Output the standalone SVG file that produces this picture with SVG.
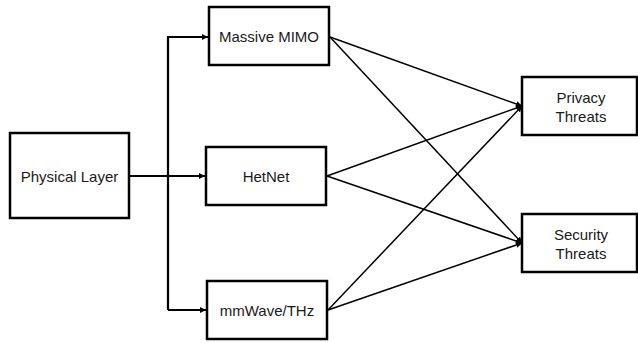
<svg xmlns="http://www.w3.org/2000/svg" width="638" height="343" viewBox="0 0 638 343">
<style>
.box{fill:#fff;stroke:#000;stroke-width:2.5}
.t{font-family:"Liberation Sans",Arial,sans-serif;font-size:15px;fill:#1a1a1a;text-anchor:middle;dominant-baseline:central}
.c{fill:none;stroke:#000;stroke-width:1.5}
.c2{fill:none;stroke:#000;stroke-width:2.2}
</style>
<defs>
<marker id="ah" viewBox="0 0 10 10" refX="10" refY="5" markerWidth="6" markerHeight="6" markerUnits="userSpaceOnUse" orient="auto">
<path d="M0,0 L10,5 L0,10 z" fill="#000"/>
</marker>
</defs>
<g id="connectors">
<path class="c2" d="M129,176 L205,176" marker-end="url(#ah)"/>
<path class="c2" d="M168,310 L168,37 L208,37" marker-end="url(#ah)"/>
<path class="c2" d="M168,310 L206,310" marker-end="url(#ah)"/>
<path class="c" d="M330,37 L522,106" marker-end="url(#ah)"/>
<path class="c" d="M330,37 L522,243" marker-end="url(#ah)"/>
<path class="c" d="M327,176 L522,106" marker-end="url(#ah)"/>
<path class="c" d="M327,176 L522,243" marker-end="url(#ah)"/>
<path class="c" d="M328,310 L522,106" marker-end="url(#ah)"/>
<path class="c" d="M328,310 L522,243" marker-end="url(#ah)"/>
</g>
<g id="physical"><rect class="box" x="10" y="133" width="119" height="85"/><text class="t" x="69.5" y="176">Physical Layer</text></g>
<g id="mimo"><rect class="box" x="209" y="7" width="120" height="58"/><text class="t" x="269" y="36">Massive MIMO</text></g>
<g id="hetnet"><rect class="box" x="206" y="147" width="120" height="58"/><text class="t" x="266" y="176">HetNet</text></g>
<g id="mmwave"><rect class="box" x="207" y="281" width="120" height="58"/><text class="t" x="267" y="310">mmWave/THz</text></g>
<g id="privacy"><rect class="box" x="522" y="77" width="115" height="58"/><text class="t" x="581" y="97">Privacy</text><text class="t" x="581" y="116">Threats</text></g>
<g id="security"><rect class="box" x="522" y="214" width="115" height="58"/><text class="t" x="581" y="234">Security</text><text class="t" x="581" y="253">Threats</text></g>
</svg>
